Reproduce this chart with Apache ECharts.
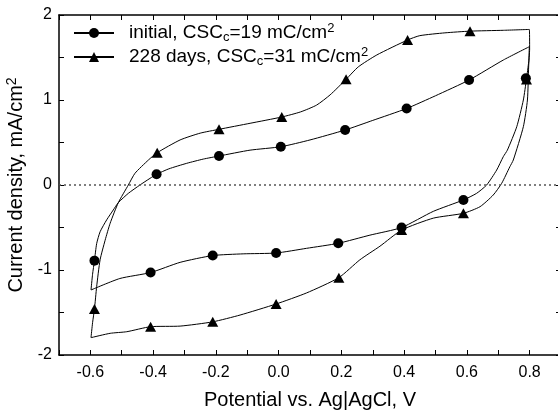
<!DOCTYPE html>
<html>
<head>
<meta charset="UTF-8">
<title>CV curves</title>
<script src="https://cdn.jsdelivr.net/npm/echarts@6/dist/echarts.min.js"></script>
<style>html,body{margin:0;padding:0;background:#fff;}</style>
</head>
<body>
<div id="main" style="width:558px;height:411px;"></div>
<script>
// cyclic voltammograms, [potential V, current density mA/cm2]
// loop starts at -0.6 V, goes up to 0.8 V and back
var initialLoop = [
    [-0.598,-1.235],[-0.593,-1.05],[-0.587,-0.89],[-0.580,-0.69],[-0.569,-0.55],
    [-0.548,-0.41],[-0.527,-0.294],[-0.511,-0.208],[-0.479,-0.098],[-0.442,0.0],
    [-0.410,0.078],[-0.389,0.126],[-0.35,0.19],[-0.293,0.255],[-0.24,0.305],
    [-0.19,0.341],[-0.091,0.41],[0.007,0.45],[0.10,0.53],[0.212,0.647],
    [0.30,0.76],[0.408,0.90],[0.50,1.05],[0.607,1.235],[0.716,1.47],[0.799,1.627],
    [0.797,1.45],[0.79,1.25],[0.78,1.0],[0.759,0.686],[0.729,0.41],[0.716,0.333],
    [0.695,0.176],[0.663,0.0],[0.631,-0.098],[0.589,-0.176],[0.493,-0.31],
    [0.392,-0.50],[0.291,-0.59],[0.19,-0.686],[0.089,-0.745],[-0.008,-0.80],
    [-0.113,-0.81],[-0.21,-0.83],[-0.314,-0.91],[-0.408,-1.03],[-0.506,-1.10],
    [-0.598,-1.235]
];
var agedLoop = [
    [-0.598,-1.796],[-0.593,-1.62],[-0.587,-1.46],[-0.580,-1.196],[-0.569,-0.88],
    [-0.553,-0.65],[-0.537,-0.45],[-0.511,-0.208],[-0.479,0.0],[-0.458,0.137],
    [-0.415,0.294],[-0.387,0.38],[-0.314,0.53],[-0.25,0.61],[-0.19,0.655],
    [-0.091,0.726],[0.01,0.80],[0.07,0.86],[0.121,0.94],[0.164,1.06],[0.215,1.243],
    [0.254,1.39],[0.313,1.53],[0.411,1.706],[0.45,1.757],[0.53,1.79],[0.61,1.81],
    [0.716,1.82],[0.799,1.83],[0.80,1.6],[0.797,1.4],[0.793,1.0],[0.78,0.686],
    [0.748,0.294],[0.737,0.215],[0.711,0.02],[0.684,-0.118],[0.642,-0.255],
    [0.589,-0.333],[0.493,-0.39],[0.392,-0.53],[0.323,-0.72],[0.259,-0.88],
    [0.192,-1.09],[0.089,-1.27],[-0.008,-1.40],[-0.123,-1.53],[-0.21,-1.61],
    [-0.314,-1.66],[-0.408,-1.667],[-0.484,-1.726],[-0.537,-1.745],[-0.598,-1.796]
];
var initialMarks = [
    [-0.587,-0.89],[-0.389,0.126],[-0.19,0.341],[0.007,0.45],[0.212,0.647],
    [0.408,0.90],[0.607,1.235],[0.788,1.255],[0.589,-0.176],[0.392,-0.50],
    [0.19,-0.686],[-0.008,-0.80],[-0.21,-0.83],[-0.408,-1.03]
];
var agedMarks = [
    [-0.587,-1.46],[-0.387,0.38],[-0.19,0.655],[0.01,0.80],[0.215,1.243],
    [0.411,1.706],[0.61,1.81],[0.79,1.24],[0.589,-0.333],[0.392,-0.53],
    [0.192,-1.09],[-0.008,-1.40],[-0.21,-1.61],[-0.408,-1.667]
];
var xTicks = [-0.6,-0.4,-0.2,0.0,0.2,0.4,0.6,0.8];
var yTicks = [-2,-1,0,1,2];
var seriesNames = ['initial','228 days'];
var legendText = {
    'initial': '{g|}{t|initial, CSC}{sub|c}{t|=19 mC/cm}{sup|2}',
    '228 days': '{g|}{t|228 days, CSC}{sub|c}{t|=31 mC/cm}{sup|2}'
};

var FONT = 'Liberation Sans, Arial, sans-serif';
var myChart = echarts.init(document.getElementById('main'));

function hasTick(list, v) {
    for (var i = 0; i < list.length; i++) {
        if (Math.abs(list[i] - v) < 1e-6) return true;
    }
    return false;
}

var axisLine = {show: true, onZero: false, lineStyle: {color: '#000', width: 1.5}};

var option = {
    animation: false,
    grid: {left: 59, right: -3, top: 15, bottom: 56, outerBoundsMode: 'none'},
    legend: {
        data: seriesNames,
        orient: 'vertical',
        left: 73,
        top: 22,
        padding: 0,
        itemGap: 2,
        itemWidth: 40,
        itemHeight: 12.5,
        selectedMode: false,
        formatter: function (name) { return legendText[name]; },
        textStyle: {
            fontFamily: FONT,
            color: '#000',
            rich: {
                g: {width: 10},
                t: {fontSize: 19, lineHeight: 22, fontFamily: FONT, color: '#000'},
                sub: {fontSize: 13, lineHeight: 13, verticalAlign: 'bottom', fontFamily: FONT, color: '#000'},
                sup: {fontSize: 13, lineHeight: 13, verticalAlign: 'top', fontFamily: FONT, color: '#000'}
            }
        }
    },
    xAxis: [{
        type: 'value',
        min: -0.7, max: 0.9, interval: 0.1,
        axisLine: axisLine,
        axisTick: {inside: true, length: 5, lineStyle: {color: '#000', width: 1}},
        splitLine: {show: false},
        axisLabel: {
            margin: 10,
            fontFamily: FONT, fontSize: 16, color: '#000',
            formatter: function (v) {
                var r = Math.round(v * 10) / 10;
                return hasTick(xTicks, r) ? r.toFixed(1) : '';
            }
        },
        name: 'Potential vs. Ag|AgCl, V',
        nameLocation: 'middle',
        nameGap: 35,
        nameTextStyle: {fontFamily: FONT, fontSize: 20, color: '#000'}
    }, {
        type: 'value',
        position: 'top',
        min: -0.7, max: 0.9, interval: 0.1,
        axisLine: axisLine,
        axisTick: {inside: true, length: 5, lineStyle: {color: '#000', width: 1}},
        axisLabel: {show: false},
        splitLine: {show: false}
    }],
    yAxis: [{
        type: 'value',
        min: -2, max: 2, interval: 0.5,
        axisLine: axisLine,
        axisTick: {inside: true, length: 5, lineStyle: {color: '#000', width: 1}},
        splitLine: {show: false},
        axisLabel: {
            margin: 7,
            fontFamily: FONT, fontSize: 16, color: '#000',
            formatter: function (v) {
                return hasTick(yTicks, v) ? String(v) : '';
            }
        },
        name: '{t|Current density, mA/cm}{sup|2}',
        nameLocation: 'middle',
        nameGap: 28,
        nameTextStyle: {
            fontFamily: FONT, fontSize: 20, color: '#000',
            rich: {
                t: {fontSize: 20, lineHeight: 24, fontFamily: FONT, color: '#000'},
                sup: {fontSize: 14, lineHeight: 14, verticalAlign: 'top', fontFamily: FONT, color: '#000'}
            }
        }
    }, {
        type: 'value',
        position: 'right',
        min: -2, max: 2, interval: 0.5,
        axisLine: axisLine,
        axisTick: {inside: true, length: 5, lineStyle: {color: '#000', width: 1}},
        axisLabel: {show: false},
        splitLine: {show: false}
    }],
    series: [{
        name: '228 days',
        type: 'line',
        data: agedLoop,
        symbol: 'triangle',
        symbolSize: [11, 10],
        showSymbol: false,
        smooth: 0.2,
        lineStyle: {color: '#000', width: 1},
        itemStyle: {color: '#000'},
        markLine: {
            silent: true,
            symbol: ['none', 'none'],
            label: {show: false},
            lineStyle: {color: '#555', width: 1.5, type: [2, 3]},
            data: [{yAxis: 0}]
        }
    }, {
        name: 'initial',
        type: 'line',
        data: initialLoop,
        symbol: 'circle',
        symbolSize: 10,
        showSymbol: false,
        smooth: 0.2,
        lineStyle: {color: '#000', width: 1},
        itemStyle: {color: '#000'}
    }, {
        name: '228 days',
        type: 'scatter',
        data: agedMarks,
        symbol: 'triangle',
        symbolSize: [11, 10],
        itemStyle: {color: '#000', opacity: 1}
    }, {
        name: 'initial',
        type: 'scatter',
        data: initialMarks,
        symbol: 'circle',
        symbolSize: 10,
        itemStyle: {color: '#000', opacity: 1}
    }]
};

myChart.setOption(option);
</script>
</body>
</html>
